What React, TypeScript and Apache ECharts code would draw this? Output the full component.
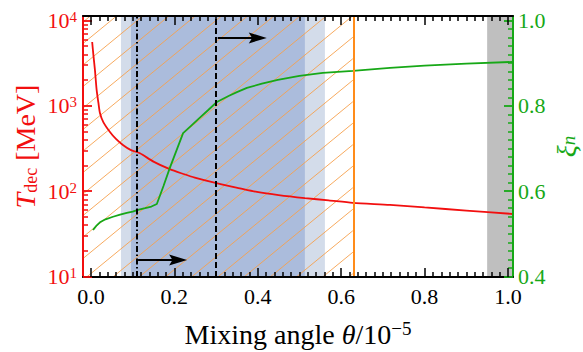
import { useEffect, useRef } from 'react';
import * as echarts from 'echarts';

// ---- data ----
const RED_X = [0.003, 0.006, 0.0096, 0.0137, 0.018, 0.0216, 0.03, 0.0456, 0.06, 0.0767, 0.095, 0.1175, 0.15, 0.189, 0.22, 0.249, 0.301, 0.357, 0.398, 0.45, 0.513, 0.57, 0.628, 0.717, 0.8, 0.9, 1.012];
const RED_T = [5600, 3900, 2640, 1535, 1080, 826, 640, 494, 410, 348, 305, 278, 222, 181, 160, 144, 124, 108, 98, 90, 83, 78, 73, 69, 64.4, 59.3, 54];

const GREEN_X = [0.005, 0.009, 0.014, 0.0216, 0.035, 0.053, 0.07, 0.086, 0.1, 0.113, 0.13, 0.145, 0.158, 0.174, 0.189, 0.205, 0.221, 0.24, 0.26, 0.28, 0.302, 0.33, 0.35, 0.374, 0.41, 0.448, 0.5, 0.556, 0.628, 0.717, 0.8, 0.9, 1.012];
const GREEN_XI = [0.509, 0.514, 0.52, 0.527, 0.534, 0.54, 0.545, 0.549, 0.552, 0.556, 0.56, 0.564, 0.57, 0.612, 0.654, 0.695, 0.736, 0.753, 0.771, 0.789, 0.809, 0.823, 0.832, 0.842, 0.852, 0.861, 0.87, 0.877, 0.882, 0.889, 0.894, 0.899, 0.903];

const X_RANGE = [-0.019, 1.012];
const Y_LEFT_RANGE = [9.86, 11300];
const Y_RIGHT_RANGE = [0.3988, 1.0105];

const X_MAJOR = [0, 0.2, 0.4, 0.6, 0.8, 1.0];
const X_MINOR = Array.from({ length: 51 }, (_, i) => Number((i * 0.02).toFixed(2))).filter((v) => !X_MAJOR.includes(v));
const LEFT_MAJOR = [10, 100, 1000, 10000];
const LEFT_MINOR = [10, 100, 1000].flatMap((d) => [2, 3, 4, 5, 6, 7, 8, 9].map((k) => k * d));
const RIGHT_MAJOR = [0.4, 0.6, 0.8, 1.0];
const RIGHT_MINOR = Array.from({ length: 31 }, (_, i) => Number((0.4 + i * 0.02).toFixed(2))).filter((v) => !RIGHT_MAJOR.includes(v));

const LIGHT_BAND = [0.072, 0.561];
const DARK_BAND = [0.096, 0.513];
const GRAY_BAND = [0.95, 1.012];
const HATCH_RANGE = [-0.019, 0.628];
const ORANGE_LINE = 0.628;
const DASH_LINES = [0.113, 0.304];
// [start x, end x, y (MeV)]
const ARROWS = [
  [0.113, 0.209, 15.6],
  [0.304, 0.4, 6250],
];

const FONT = 'Liberation Serif';
const RED = '#f20f0f';
const GREEN = '#17a817';
const ORANGE = '#ff8c1a';
const ARROW_PATH = 'path://M5,0 L10,16 L5,13 L0,16 Z';

function xAxis(position: 'top' | 'bottom', ticks: number[], len: number, withLabel: boolean, withLine: boolean, withName: boolean) {
  return {
    type: 'value',
    position,
    min: X_RANGE[0],
    max: X_RANGE[1],
    z: 10,
    axisLine: { show: withLine, onZero: false, lineStyle: { color: '#000', width: 2 } },
    axisTick: { show: true, inside: true, length: len, customValues: ticks, lineStyle: { color: '#000', width: 1.5 } },
    axisLabel: withLabel
      ? { show: true, customValues: ticks, formatter: (v: number) => v.toFixed(1), color: '#000', fontFamily: FONT, fontSize: 22, margin: 8 }
      : { show: false },
    splitLine: { show: false },
    ...(withName
      ? {
          name: 'Mixing angle {i|θ}/10{sup|−5}',
          nameLocation: 'middle',
          nameGap: 42,
          nameMoveOverlap: false,
          nameTextStyle: {
            color: '#000',
            fontFamily: FONT,
            fontSize: 28,
            lineHeight: 30,
            rich: {
              i: { fontStyle: 'italic', fontSize: 28, fontFamily: FONT, color: '#000', lineHeight: 30 },
              sup: { fontSize: 19, fontFamily: FONT, color: '#000', verticalAlign: 'top', lineHeight: 19 },
            },
          },
        }
      : {}),
  };
}

export default function App() {
  const ref = useRef<HTMLDivElement>(null);
  useEffect(() => {
    if (!ref.current) return;
    const chart = echarts.init(ref.current, undefined, { renderer: 'svg' });
    const option: any = {
      animation: false,
      backgroundColor: '#fff',
      grid: { left: 83, right: 70, top: 16, bottom: 75, show: false, containLabel: false, outerBoundsMode: 'none' },
      xAxis: [
        xAxis('bottom', X_MAJOR, 9, true, true, true),
        xAxis('bottom', X_MINOR, 5, false, false, false),
        xAxis('top', X_MAJOR, 9, false, true, false),
        xAxis('top', X_MINOR, 5, false, false, false),
      ],
      yAxis: [
        {
          type: 'log',
          logBase: 10,
          position: 'left',
          min: Y_LEFT_RANGE[0],
          max: Y_LEFT_RANGE[1],
          z: 10,
          axisLine: { show: true, onZero: false, lineStyle: { color: RED, width: 2 } },
          axisTick: { show: true, inside: true, length: 9, customValues: LEFT_MAJOR, lineStyle: { color: RED, width: 1.8 } },
          axisLabel: {
            customValues: LEFT_MAJOR,
            formatter: (v: number) => `10{sup|${Math.round(Math.log10(v))}}`,
            color: RED,
            fontFamily: FONT,
            fontSize: 22,
            margin: 6,
            rich: { sup: { fontSize: 15, fontFamily: FONT, color: RED, verticalAlign: 'top', lineHeight: 15 } },
          },
          splitLine: { show: false },
          name: '{i|T}{sub|dec} [MeV]',
          nameLocation: 'middle',
          nameGap: 43,
          nameMoveOverlap: false,
          nameTextStyle: {
            color: RED,
            fontFamily: FONT,
            fontSize: 28,
            lineHeight: 30,
            rich: {
              i: { fontStyle: 'italic', fontSize: 28, fontFamily: FONT, color: RED, lineHeight: 30 },
              sub: { fontSize: 18, fontFamily: FONT, color: RED, verticalAlign: 'bottom', lineHeight: 10 },
            },
          },
        },
        {
          type: 'value',
          position: 'right',
          min: Y_RIGHT_RANGE[0],
          max: Y_RIGHT_RANGE[1],
          z: 10,
          axisLine: { show: true, onZero: false, lineStyle: { color: GREEN, width: 2 } },
          axisTick: { show: true, inside: true, length: 9, customValues: RIGHT_MAJOR, lineStyle: { color: GREEN, width: 1.8 } },
          axisLabel: {
            customValues: RIGHT_MAJOR,
            formatter: (v: number) => v.toFixed(1),
            color: GREEN,
            fontFamily: FONT,
            fontSize: 22,
            margin: 5,
          },
          splitLine: { show: false },
          name: '{i|ξ}{sub|n}',
          nameLocation: 'middle',
          nameGap: 41,
          nameRotate: 90,
          nameMoveOverlap: false,
          nameTextStyle: {
            color: GREEN,
            fontFamily: FONT,
            fontSize: 28,
            lineHeight: 24,
            rich: {
              i: { fontStyle: 'italic', fontSize: 28, fontFamily: FONT, color: GREEN, lineHeight: 24 },
              sub: { fontStyle: 'italic', fontSize: 19, fontFamily: FONT, color: GREEN, verticalAlign: 'bottom', lineHeight: 8 },
            },
          },
        },
        {
          type: 'log',
          logBase: 10,
          position: 'left',
          min: Y_LEFT_RANGE[0],
          max: Y_LEFT_RANGE[1],
          z: 10,
          axisLine: { show: false, onZero: false },
          axisTick: { show: true, inside: true, length: 5, customValues: LEFT_MINOR, lineStyle: { color: RED, width: 1.5 } },
          axisLabel: { show: false },
          splitLine: { show: false },
        },
        {
          type: 'value',
          position: 'right',
          min: Y_RIGHT_RANGE[0],
          max: Y_RIGHT_RANGE[1],
          z: 10,
          axisLine: { show: false, onZero: false },
          axisTick: { show: true, inside: true, length: 5, customValues: RIGHT_MINOR, lineStyle: { color: GREEN, width: 1.5 } },
          axisLabel: { show: false },
          splitLine: { show: false },
        },
      ],
      series: [
        {
          type: 'custom',
          name: 'hatch',
          xAxisIndex: 0,
          yAxisIndex: 1,
          z: 2,
          silent: true,
          clip: true,
          encode: { x: [0, 1], y: 2 },
          data: [[HATCH_RANGE[0], HATCH_RANGE[1], 0.7]],
          renderItem: (params: any, api: any) => {
            const cs = params.coordSys;
            const xa = api.coord([api.value(0), api.value(2)])[0];
            const xb = api.coord([api.value(1), api.value(2)])[0];
            const top = cs.y;
            const bot = cs.y + cs.height;
            const k = 0.82;
            const gap = 21.5;
            const children: any[] = [];
            const cMin = top + k * xa;
            const cMax = bot + k * xb;
            for (let c = cMin + 6; c < cMax; c += gap) {
              const x1 = Math.max(xa, (c - bot) / k);
              const x2 = Math.min(xb, (c - top) / k);
              if (x2 > x1) {
                children.push({
                  type: 'line',
                  shape: { x1, y1: c - k * x1, x2, y2: c - k * x2 },
                  style: { stroke: '#f6a04d', lineWidth: 0.9 },
                });
              }
            }
            return { type: 'group', children };
          },
        },
        {
          type: 'line',
          name: 'Tdec',
          xAxisIndex: 0,
          yAxisIndex: 0,
          z: 3,
          data: RED_X.map((x, i) => [x, RED_T[i]]),
          showSymbol: false,
          symbol: 'none',
          smooth: 0.25,
          lineStyle: { color: RED, width: 1.8 },
          markArea: {
            silent: true,
            z: 1,
            itemStyle: { opacity: 1 },
            data: [
              [{ xAxis: LIGHT_BAND[0], itemStyle: { color: '#d3dcea' } }, { xAxis: LIGHT_BAND[1] }],
              [{ xAxis: DARK_BAND[0], itemStyle: { color: '#abbcdc' } }, { xAxis: DARK_BAND[1] }],
              [{ xAxis: GRAY_BAND[0], itemStyle: { color: '#bfbfbf' } }, { xAxis: GRAY_BAND[1] }],
            ],
          },
          markLine: {
            silent: true,
            z: 5,
            symbol: ['none', 'none'],
            label: { show: false },
            emphasis: { disabled: true },
            data: [
              { xAxis: ORANGE_LINE, lineStyle: { color: ORANGE, width: 2, type: 'solid' } },
              { xAxis: DASH_LINES[0], lineStyle: { color: '#000', width: 2, type: [6, 2.5, 1.5, 2.5] } },
              { xAxis: DASH_LINES[1], lineStyle: { color: '#000', width: 2, type: [6, 3] } },
              ...ARROWS.map((a) => [
                { coord: [a[0], a[2]], symbol: 'none', lineStyle: { color: '#000', width: 2, type: 'solid' } },
                { coord: [a[1], a[2]], symbol: ARROW_PATH, symbolSize: [11, 18], lineStyle: { color: '#000', width: 2, type: 'solid' }, itemStyle: { color: '#000' } },
              ]),
            ],
          },
        },
        {
          type: 'line',
          name: 'xi',
          xAxisIndex: 0,
          yAxisIndex: 1,
          z: 3,
          data: GREEN_X.map((x, i) => [x, GREEN_XI[i]]),
          showSymbol: false,
          symbol: 'none',
          lineStyle: { color: GREEN, width: 1.8 },
        },
      ],
    };
    chart.setOption(option);
    return () => chart.dispose();
  }, []);
  return <div ref={ref} style={{ position: 'fixed', left: 0, top: 0, width: 583, height: 352 }} />;
}
